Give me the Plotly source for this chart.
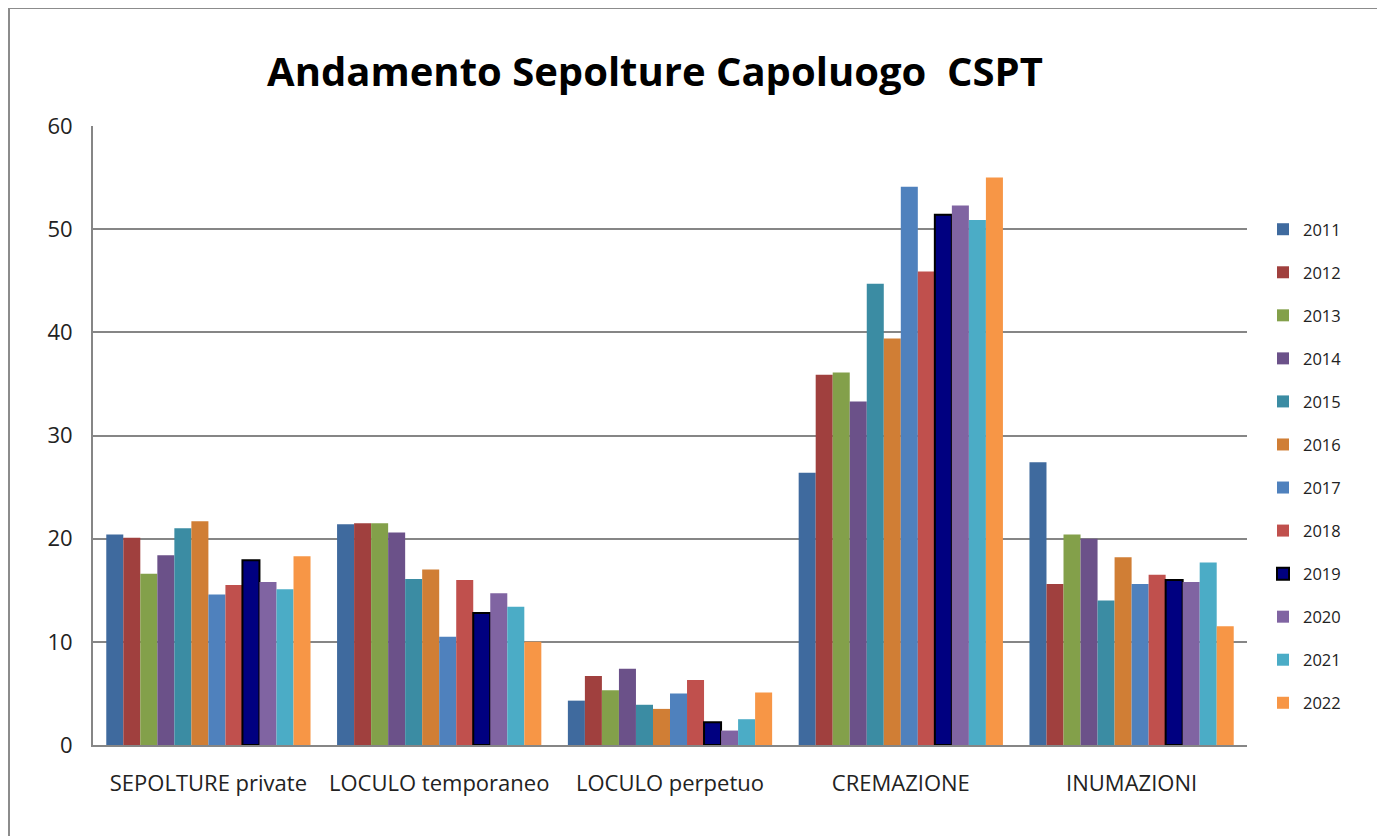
import plotly.graph_objects as go

# categorie e anni
categorie = ["SEPOLTURE private", "LOCULO temporaneo", "LOCULO perpetuo", "CREMAZIONE", "INUMAZIONI"]
anni = ["2011", "2012", "2013", "2014", "2015", "2016", "2017", "2018", "2019", "2020", "2021", "2022"]

# valori per anno (una lista per anno, nell'ordine delle categorie)
v2011 = [20.4, 21.4, 4.3, 26.4, 27.4]
v2012 = [20.1, 21.5, 6.7, 35.9, 15.6]
v2013 = [16.6, 21.5, 5.3, 36.1, 20.4]
v2014 = [18.4, 20.6, 7.4, 33.3, 20.0]
v2015 = [21.0, 16.1, 3.9, 44.7, 14.0]
v2016 = [21.7, 17.0, 3.5, 39.4, 18.2]
v2017 = [14.6, 10.5, 5.0, 54.1, 15.6]
v2018 = [15.5, 16.0, 6.3, 45.9, 16.5]
v2019 = [17.9, 12.8, 2.2, 51.4, 16.0]
v2020 = [15.8, 14.7, 1.4, 52.3, 15.8]
v2021 = [15.1, 13.4, 2.5, 50.9, 17.7]
v2022 = [18.3, 10.0, 5.1, 55.0, 11.5]
valori = [v2011, v2012, v2013, v2014, v2015, v2016, v2017, v2018, v2019, v2020, v2021, v2022]

colori = ["#3F6A9E", "#A0403E", "#83A04A", "#6B5189", "#3B8CA3", "#D07E35",
          "#4F81BD", "#C0504D", "#000080", "#8064A2", "#4BACC6", "#F79646"]

# la pagina html ha un margine di 8 px: coordinate del riferimento spostate di 8
OFF = 8
W, H = 1385, 836
L, R, T, B = 93 - OFF, 1247 - OFF, 126 - OFF, 745 - OFF   # area del grafico in pixel


def px_x(x):
    return (x - OFF - L) / (R - L)


def px_y(y):
    return (B - (y - OFF)) / (B - T)


fig = go.Figure()
for anno, v, c in zip(anni, valori, colori):
    bordo = "black" if anno == "2019" else c
    fig.add_trace(go.Bar(
        x=categorie, y=v, name=anno, legendgroup=anno,
        marker=dict(color=c, line=dict(color=bordo, width=2 if anno == "2019" else 0)),
    ))

fig.update_layout(
    width=W, height=H,
    margin=dict(l=L, r=W - R, t=T, b=H - B, autoexpand=False),
    paper_bgcolor="white", plot_bgcolor="white",
    barmode="group", bargap=0.115, bargroupgap=0,
    title=dict(text="<b>Andamento Sepolture Capoluogo  CSPT</b>",
               x=(655 - OFF) / W, xanchor="center",
               y=1 - (72 - OFF) / H, yanchor="middle",
               font=dict(family="Open Sans", size=40, color="black")),
    font=dict(family="Open Sans", size=22, color="#222222"),
    legend=dict(x=px_x(1263), xanchor="left", y=px_y(212), yanchor="top",
                font=dict(size=16.5), tracegroupgap=18.6, itemwidth=30,
                bgcolor="rgba(0,0,0,0)"),
    showlegend=True,
)

fig.update_xaxes(showgrid=False, showline=True, linecolor="#868686", linewidth=2,
                 ticks="", ticklabelstandoff=18, tickfont=dict(size=22))
fig.update_yaxes(range=[0, 60], dtick=10, showgrid=True, gridcolor="#868686", gridwidth=2,
                 showline=True, linecolor="#868686", linewidth=2, zeroline=False,
                 ticks="", ticklabelstandoff=14, tickfont=dict(size=22))

# bordo esterno del grafico
fig.add_shape(type="rect", xref="paper", yref="paper",
              x0=px_x(9), x1=px_x(1380), y0=px_y(850), y1=px_y(8),
              line=dict(color="#8C8C8C", width=2), layer="below")

fig.write_html("out.html")
